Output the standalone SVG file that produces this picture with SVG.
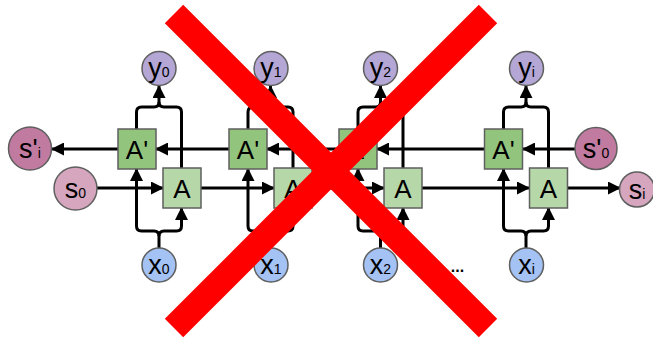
<svg xmlns="http://www.w3.org/2000/svg" width="653" height="338" viewBox="0 0 653 338">
<style>
.c{stroke:#5f5f5f;stroke-width:1.5}
.y{fill:#b4a7d6}.x{fill:#a4c2f4}.s{fill:#d5a6bd}.sp{fill:#c27ba0}
.a{fill:#b6d7a8;stroke:#5f5f5f;stroke-width:1.5}.ap{fill:#93c47d;stroke:#5f5f5f;stroke-width:1.5}
text{font-family:"Liberation Sans",Arial,sans-serif;fill:#000;text-anchor:middle}
.t{font-size:27px}.b{font-size:26px}.sub{font-size:14px}
.w{fill:none;stroke:#000;stroke-width:3}
.r{stroke:#ff0000;stroke-width:26;stroke-linecap:butt}
</style>
<defs>
<marker id="ar" markerUnits="userSpaceOnUse" markerWidth="13" markerHeight="13" refX="12" refY="6.5" orient="auto">
<path d="M0,0 L13,6.5 L0,13 z" fill="#000"/>
</marker>
</defs>
<g id="connectors" class="w">
<path d="M575,149 H523" marker-end="url(#ar)"/>
<path d="M484,149 H377" marker-end="url(#ar)"/>
<path d="M339,149 H267" marker-end="url(#ar)"/>
<path d="M229,149 H156" marker-end="url(#ar)"/>
<path d="M118,149 H52" marker-end="url(#ar)"/>
<path d="M97,188 H163" marker-end="url(#ar)"/>
<path d="M201,188 H274" marker-end="url(#ar)"/>
<path d="M312,188 H384" marker-end="url(#ar)"/>
<path d="M422,188 H529" marker-end="url(#ar)"/>
<path d="M567,188 H620" marker-end="url(#ar)"/>
<path d="M136.5,129 V112 Q136.5,107 141.5,107 H154 Q159,107 159,102 V86" marker-end="url(#ar)"/>
<path d="M181.5,168 V112 Q181.5,107 176.5,107 H164 Q159,107 159,102"/>
<path d="M159,248 V236 Q159,231 154,231 H141.5 Q136.5,231 136.5,226 V169" marker-end="url(#ar)"/>
<path d="M159,236 Q159,231 164,231 H176.5 Q181.5,231 181.5,226 V208" marker-end="url(#ar)"/>
<path d="M248,129 V112 Q248,107 253,107 H265.5 Q270.5,107 270.5,102 V86" marker-end="url(#ar)"/>
<path d="M293,168 V112 Q293,107 288,107 H275.5 Q270.5,107 270.5,102"/>
<path d="M270.5,248 V236 Q270.5,231 265.5,231 H253 Q248,231 248,226 V169" marker-end="url(#ar)"/>
<path d="M270.5,236 Q270.5,231 275.5,231 H288 Q293,231 293,226 V208" marker-end="url(#ar)"/>
<path d="M358,129 V112 Q358,107 363,107 H375.5 Q380.5,107 380.5,102 V86" marker-end="url(#ar)"/>
<path d="M403,168 V112 Q403,107 398,107 H385.5 Q380.5,107 380.5,102"/>
<path d="M380.5,248 V236 Q380.5,231 375.5,231 H363 Q358,231 358,226 V169" marker-end="url(#ar)"/>
<path d="M380.5,236 Q380.5,231 385.5,231 H398 Q403,231 403,226 V208" marker-end="url(#ar)"/>
<path d="M503.5,129 V112 Q503.5,107 508.5,107 H521 Q526,107 526,102 V86" marker-end="url(#ar)"/>
<path d="M548.5,168 V112 Q548.5,107 543.5,107 H531 Q526,107 526,102"/>
<path d="M526,248 V236 Q526,231 521,231 H508.5 Q503.5,231 503.5,226 V169" marker-end="url(#ar)"/>
<path d="M526,236 Q526,231 531,231 H543.5 Q548.5,231 548.5,226 V208" marker-end="url(#ar)"/>
</g>
<g id="s_prime_i"><circle class="c sp" cx="30" cy="148.5" r="21.5"/><text class="t" x="30" y="157.5">s'<tspan class="sub">i</tspan></text></g>
<g id="s_0"><circle class="c s" cx="75.5" cy="188.5" r="21.5"/><text class="t" x="75.5" y="197.5">s<tspan class="sub">0</tspan></text></g>
<g id="s_prime_0"><circle class="c sp" cx="596" cy="148.5" r="21"/><text class="t" x="596" y="157.5">s'<tspan class="sub">0</tspan></text></g>
<g id="s_i"><circle class="c s" cx="637" cy="189.5" r="17.5"/><text class="t" x="637" y="198.5">s<tspan class="sub">i</tspan></text></g>

<g id="y0"><circle class="c y" cx="159" cy="68.5" r="17"/><text class="t" x="159" y="76.5">y<tspan class="sub">0</tspan></text></g>
<g id="y1"><circle class="c y" cx="271" cy="68.5" r="17"/><text class="t" x="271" y="76.5">y<tspan class="sub">1</tspan></text></g>
<g id="y2"><circle class="c y" cx="380.5" cy="68.5" r="17"/><text class="t" x="380.5" y="76.5">y<tspan class="sub">2</tspan></text></g>
<g id="yi"><circle class="c y" cx="526.5" cy="68.5" r="17"/><text class="t" x="526.5" y="76.5">y<tspan class="sub">i</tspan></text></g>

<g id="x0"><circle class="c x" cx="159" cy="265" r="17"/><text class="t" x="159" y="274">x<tspan class="sub">0</tspan></text></g>
<g id="x1"><circle class="c x" cx="271" cy="265" r="17"/><text class="t" x="271" y="274">x<tspan class="sub">1</tspan></text></g>
<g id="x2"><circle class="c x" cx="380.5" cy="265" r="17"/><text class="t" x="380.5" y="274">x<tspan class="sub">2</tspan></text></g>
<g id="xi"><circle class="c x" cx="526.5" cy="265" r="17"/><text class="t" x="526.5" y="274">x<tspan class="sub">i</tspan></text></g>

<g id="Ap0"><rect class="ap" x="118" y="129" width="38" height="40"/><text class="b" x="137" y="158.5">A'</text></g>
<g id="A0"><rect class="a" x="163" y="168" width="38" height="40"/><text class="b" x="182" y="197.5">A</text></g>
<g id="Ap1"><rect class="ap" x="229" y="129" width="38" height="40"/><text class="b" x="248" y="158.5">A'</text></g>
<g id="A1"><rect class="a" x="274" y="168" width="38" height="40"/><text class="b" x="293" y="197.5">A</text></g>
<g id="Ap2"><rect class="ap" x="339" y="129" width="38" height="40"/><text class="b" x="358" y="158.5">A'</text></g>
<g id="A2"><rect class="a" x="384" y="168" width="38" height="40"/><text class="b" x="403" y="197.5">A</text></g>
<g id="Ap3"><rect class="ap" x="484.5" y="129" width="38" height="40"/><text class="b" x="503.5" y="158.5">A'</text></g>
<g id="A3"><rect class="a" x="529.5" y="168" width="38" height="40"/><text class="b" x="548.5" y="197.5">A</text></g>

<g id="ellipsis"><text x="457.5" y="272" style="font-size:16px;font-weight:bold">...</text></g>

<g id="cross">
<line class="r" x1="174" y1="14" x2="488" y2="328"/>
<line class="r" x1="488" y1="14" x2="174" y2="328"/>
</g>
</svg>
